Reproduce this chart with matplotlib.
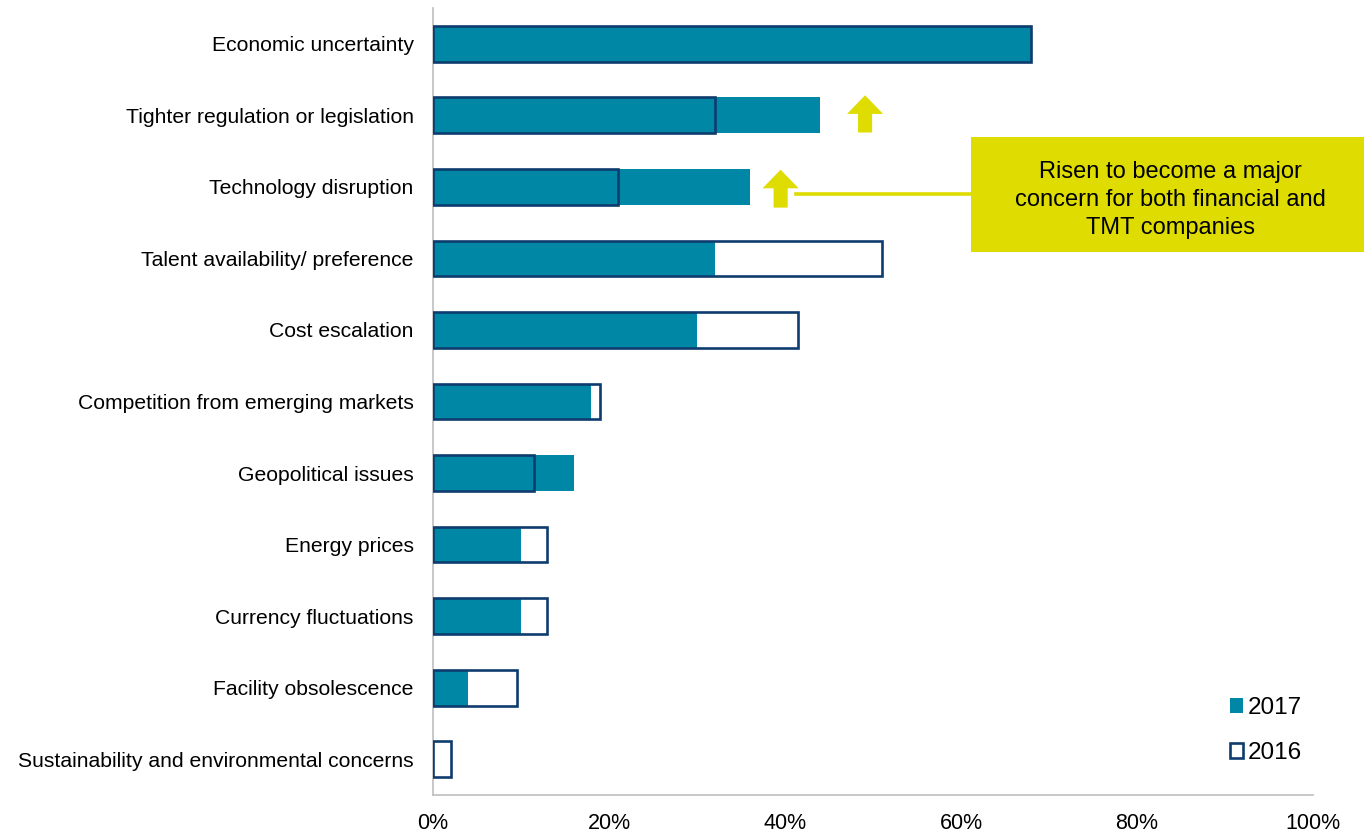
import matplotlib
matplotlib.use("Agg")
import matplotlib.pyplot as plt
from matplotlib.patches import Patch, Polygon, Rectangle
from matplotlib.lines import Line2D
from matplotlib.ticker import FuncFormatter

plt.rcParams['font.family'] = ['Liberation Sans', 'DejaVu Sans']

categories = [
    "Economic uncertainty",
    "Tighter regulation or legislation",
    "Technology disruption",
    "Talent availability/ preference",
    "Cost escalation",
    "Competition from emerging markets",
    "Geopolitical issues",
    "Energy prices",
    "Currency fluctuations",
    "Facility obsolescence",
    "Sustainability and environmental concerns",
]
values_2017 = [68, 44, 36, 32, 30, 18, 16, 10, 10, 4, 0]
values_2016 = [68, 32, 21, 51, 41.5, 19, 11.5, 13, 13, 9.5, 2]
x_ticks = [0, 20, 40, 60, 80, 100]

TEAL = "#0087A6"
NAVY = "#0E3C6E"
YELLOW = "#DEDC00"
GRID = "#BFBFBF"

fig = plt.figure(figsize=(13.64, 8.33), dpi=100)
ax = fig.add_axes([433 / 1364, 1 - 795 / 833, 880 / 1364, 787 / 833])

y = list(range(len(categories)))
h = 0.5

# 2016 backdrop (white fill), 2017 solid bars, 2016 outline drawn on top
ax.barh(y, values_2016, height=h, color="white", edgecolor="none", zorder=1)
ax.barh(y, values_2017, height=h, color=TEAL, edgecolor="none", zorder=2)
ax.barh(y, values_2016, height=h, facecolor="none", edgecolor=NAVY,
        linewidth=1.9, zorder=3)

ax.set_ylim(len(categories) - 0.5, -0.5)
ax.set_xlim(0, 100)
ax.set_yticks(y)
ax.set_yticklabels(categories, fontsize=15.2)
ax.set_xticks(x_ticks)
ax.xaxis.set_major_formatter(FuncFormatter(lambda v, p: f"{v:.0f}%"))
ax.tick_params(axis="x", labelsize=15.5, length=0, pad=13)
ax.tick_params(axis="y", length=0, pad=14)

for s in ["top", "right"]:
    ax.spines[s].set_visible(False)
for s in ["left", "bottom"]:
    ax.spines[s].set_color(GRID)
    ax.spines[s].set_linewidth(1.2)


def up_arrow(xc, y_base, y_tip, shaft=0.8, head=2.05, head_len=0.26):
    pts = [
        (xc - shaft, y_base), (xc + shaft, y_base),
        (xc + shaft, y_tip + head_len), (xc + head, y_tip + head_len),
        (xc, y_tip), (xc - head, y_tip + head_len),
        (xc - shaft, y_tip + head_len),
    ]
    ax.add_patch(Polygon(pts, closed=True, facecolor=YELLOW, edgecolor="none",
                         zorder=4, clip_on=False))


up_arrow(49.1, 1.24, 0.72)
up_arrow(39.5, 2.29, 1.76)

# connector from the lower arrow to the callout box
ax.add_line(Line2D([41.3, 61.2], [2.10, 2.10], color=YELLOW, linewidth=2.6,
                   zorder=4, clip_on=False))

# callout box
fig.add_artist(Rectangle((971 / 1364, 1 - 252 / 833), 393 / 1364, 115 / 833,
                         transform=fig.transFigure, facecolor=YELLOW,
                         edgecolor="none", zorder=5))
fig.text(1170 / 1364, 1 - 200 / 833,
         "Risen to become a major\nconcern for both financial and\nTMT companies",
         ha="center", va="center", fontsize=17, linespacing=1.36, zorder=6)

handles = [
    Patch(facecolor=TEAL, edgecolor="none", label="2017"),
    Patch(facecolor="white", edgecolor=NAVY, linewidth=1.9, label="2016"),
]
fig.legend(handles=handles, loc="upper left",
           bbox_to_anchor=(1213 / 1364, 1 - 680 / 833),
           frameon=False, fontsize=17.5, handlelength=0.55, handleheight=0.55,
           handletextpad=0.2, labelspacing=0.95, borderpad=0.2)

fig.savefig("out.png", dpi=100)
